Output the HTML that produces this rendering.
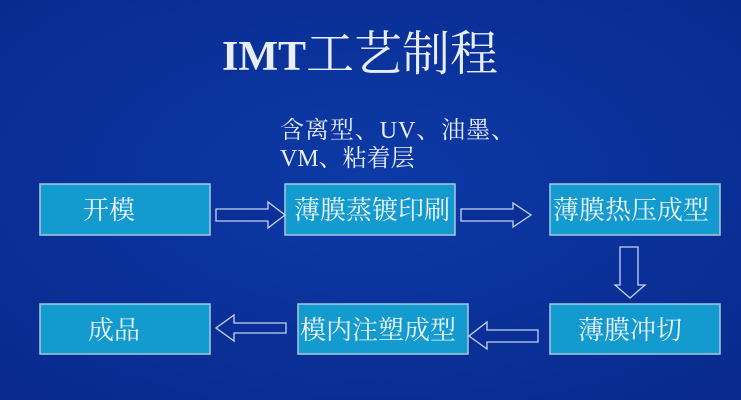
<!DOCTYPE html>
<html><head><meta charset="utf-8"><style>
html,body{margin:0;padding:0;background:#0b2f98;}
svg{display:block}
</style></head><body>
<svg width="741" height="400" viewBox="0 0 741 400" xmlns="http://www.w3.org/2000/svg">
<defs><radialGradient id="bg" cx="50%" cy="45%" r="70%"><stop offset="0" stop-color="#0d3aa6"/><stop offset="1" stop-color="#082a8e"/></radialGradient></defs>
<rect width="741" height="400" fill="url(#bg)"/>
<text x="222" y="70" font-family="Liberation Serif, serif" font-weight="bold" font-size="42" fill="#e8eef8">IMT<tspan font-family="'Noto Serif CJK SC', serif" font-weight="normal" font-size="48">工艺制程</tspan></text>
<g font-family="'Liberation Serif','Noto Serif CJK SC',serif" font-size="24" fill="#e8eef8">
<text x="280" y="138" textLength="235">含离型、UV、油墨、</text>
<text x="280" y="166">VM、粘着层</text>
</g>
<g fill="#139bd0" stroke="#a9c8dc" stroke-width="1.5">
<rect x="40" y="184" width="170" height="51"/>
<rect x="285" y="184" width="170" height="51"/>
<rect x="550" y="184" width="170" height="51"/>
<rect x="550" y="304" width="170" height="50"/>
<rect x="298" y="304" width="170" height="50"/>
<rect x="40" y="304" width="170" height="50"/>
</g>
<g font-family="'Noto Serif CJK SC',serif" font-size="26" fill="#eef4fa">
<text x="83" y="219">开模</text>
<text x="294" y="219">薄膜蒸镀印刷</text>
<text x="553" y="219">薄膜热压成型</text>
<text x="578" y="339">薄膜冲切</text>
<text x="300" y="339">模内注塑成型</text>
<text x="88" y="339">成品</text>
</g>
<g fill="#0b2f98" stroke="#c4d4ee" stroke-width="1.3">
<polygon points="216,209 268,209 268,202 285,215 268,228 268,221 216,221"/>
<polygon points="461,209 513,209 513,203 531,215 513,227 513,221 461,221"/>
<polygon points="620,247 638,247 638,285 645,285 630,298 615,285 620,285"/>
<polygon points="538,330 487,330 487,322 469,336 487,349 487,342 538,342"/>
<polygon points="286,323 234,323 234,315 216,328 234,341 234,333 286,333"/>
</g>
</svg>
</body></html>
